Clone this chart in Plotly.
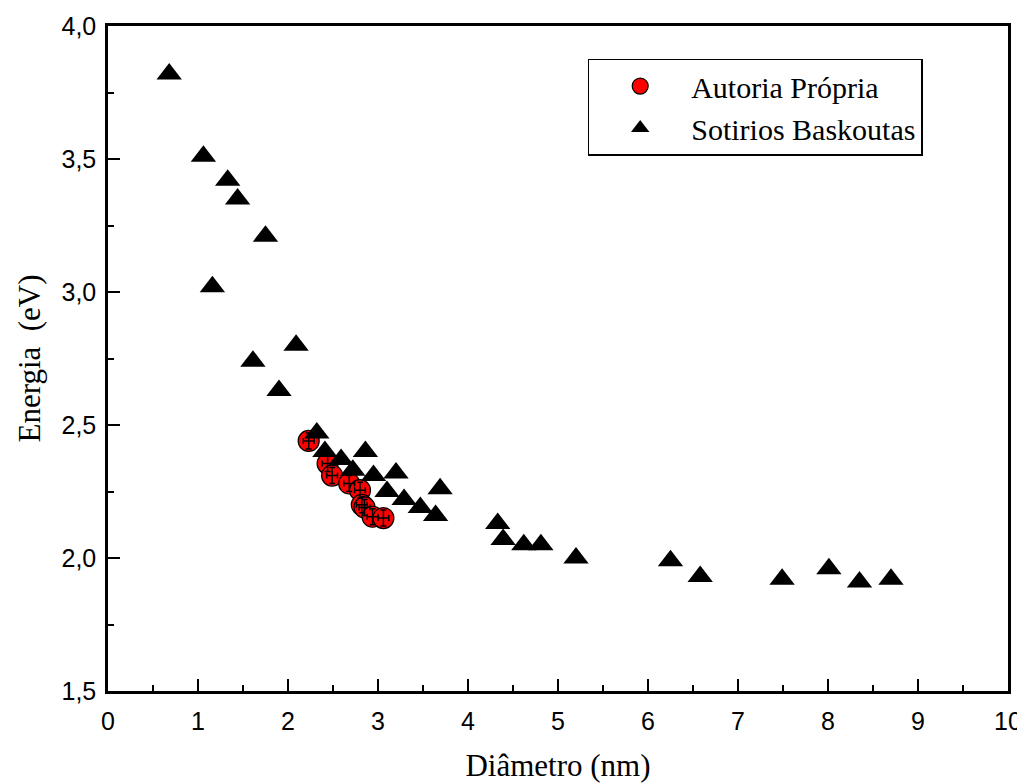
import plotly.graph_objects as go

# Sotirios Baskoutas (triangles)
sb_diam = [0.68, 1.06, 1.33, 1.44, 1.75, 1.16, 1.61, 2.09, 1.90, 2.32, 2.41, 2.59,
           2.72, 2.86, 2.95, 3.20, 3.10, 3.29, 3.47, 3.64, 3.69, 4.33, 4.39, 4.62,
           4.81, 5.20, 6.25, 6.58, 7.49, 8.01, 8.35, 8.70]
sb_energy = [3.82, 3.51, 3.42, 3.35, 3.21, 3.02, 2.74, 2.80, 2.63, 2.47, 2.40, 2.37,
             2.33, 2.40, 2.31, 2.32, 2.25, 2.22, 2.19, 2.16, 2.26, 2.13, 2.07, 2.05,
             2.05, 2.00, 1.99, 1.93, 1.92, 1.96, 1.91, 1.92]

# Autoria Própria (red circles with error bars)
ap_diam = [2.23, 2.44, 2.49, 2.68, 2.80, 2.82, 2.85, 2.94, 3.06]
ap_energy = [2.44, 2.355, 2.31, 2.28, 2.255, 2.20, 2.19, 2.155, 2.15]
ap_err_x = [0.06] * len(ap_diam)
ap_err_y = [0.03] * len(ap_diam)

x_ticks = list(range(0, 11))
y_ticks = [1.5, 2.0, 2.5, 3.0, 3.5, 4.0]
y_labels = ["1,5", "2,0", "2,5", "3,0", "3,5", "4,0"]

fig = go.Figure()

fig.add_trace(go.Scatter(
    x=ap_diam, y=ap_energy, mode="markers", name="Autoria Própria",
    marker=dict(symbol="circle", size=21, color="#ff0000",
                line=dict(color="black", width=1.2)),
))

# error bars drawn on top of the red circles
fig.add_trace(go.Scatter(
    x=ap_diam, y=ap_energy, mode="markers", showlegend=False, hoverinfo="skip",
    marker=dict(size=1, color="rgba(0,0,0,0)"),
    error_x=dict(type="data", array=ap_err_x, color="black", thickness=1.5, width=3),
    error_y=dict(type="data", array=ap_err_y, color="black", thickness=1.5, width=3),
))

fig.add_trace(go.Scatter(
    x=sb_diam, y=sb_energy, mode="markers", name="Sotirios Baskoutas",
    marker=dict(symbol="triangle-up", size=22, color="black",
                line=dict(color="black", width=0)),
))

axis_font = dict(family="Liberation Sans Narrow, Liberation Sans, Arial", size=25, color="black")
serif = "Liberation Serif, Times New Roman"

fig.update_xaxes(
    range=[0, 10], tickvals=x_ticks, ticks="inside", ticklen=12, tickwidth=2,
    tickcolor="black", showline=True, linecolor="black", linewidth=2.5,
    mirror=True, showgrid=False, zeroline=False, tickfont=axis_font,
    ticklabelstandoff=6, automargin=False,
    minor=dict(dtick=0.5, ticks="inside", ticklen=6, tickwidth=2, tickcolor="black"),
    title=dict(text="Diâmetro (nm)", font=dict(family=serif, size=31, color="black"),
               standoff=24),
)
fig.update_yaxes(
    range=[1.5, 4.0], tickvals=y_ticks, ticktext=y_labels, ticks="inside",
    ticklen=12, tickwidth=2, tickcolor="black", showline=True, linecolor="black",
    linewidth=2.5, mirror=True, showgrid=False, zeroline=False, tickfont=axis_font,
    ticklabelstandoff=4, automargin=False,
    minor=dict(dtick=0.25, ticks="inside", ticklen=6, tickwidth=2, tickcolor="black"),
    title=dict(text="Energia  (eV)", font=dict(family=serif, size=31, color="black"),
               standoff=12),
)

fig.update_layout(
    width=1017, height=775,
    margin=dict(l=100, r=17, t=18, b=92),
    plot_bgcolor="white", paper_bgcolor="white",
    showlegend=True,
    legend=dict(
        x=0.533, y=0.951, xanchor="left", yanchor="top",
        bgcolor="white", bordercolor="black", borderwidth=1.5,
        font=dict(family=serif, size=30, color="black"),
        itemsizing="trace", itemwidth=92,
    ),
)

fig.write_html("out.html")
